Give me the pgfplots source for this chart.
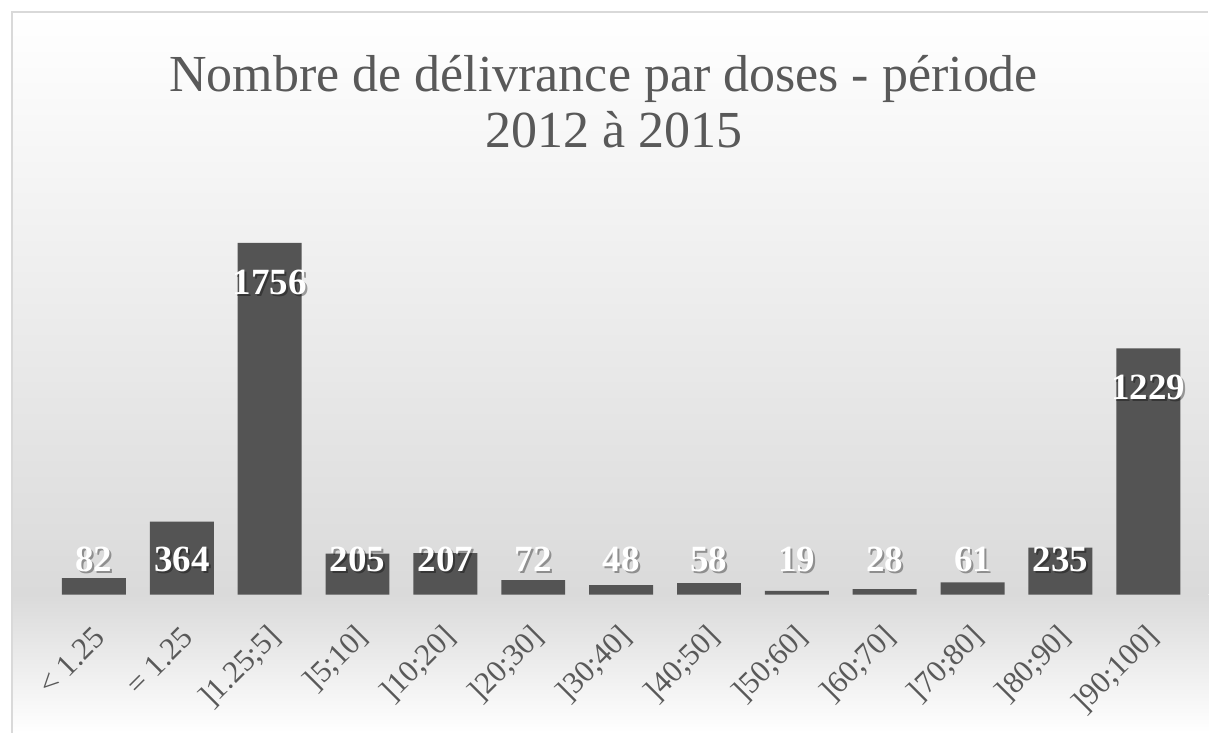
\documentclass[border=0pt]{standalone}
\usepackage{pgfplots}
\pgfplotsset{compat=1.18}
\usepackage{fontspec}
\setmainfont{Liberation Serif}
\definecolor{barcol}{HTML}{545454}
\definecolor{txtcol}{HTML}{595959}
\definecolor{bgmid}{HTML}{DADADA}
\definecolor{framecol}{HTML}{D9D9D9}

\pgfplotstableread{
x y
0 82
1 364
2 1756
3 205
4 207
5 72
6 48
7 58
8 19
9 28
10 61
11 235
12 1229
}\bardata

\pgfplotstableread{
x ly label
0 115 82
1 115 364
2 1496 1756
3 115 205
4 115 207
5 115 72
6 115 48
7 115 58
8 115 19
9 115 28
10 115 61
11 115 235
12 973 1229
}\labeldata

\begin{document}
\begin{tikzpicture}[x=1pt,y=1pt]
\fill[white] (0,0) rectangle (1209,733);
\shade[top color=white, bottom color=bgmid] (12,138) rectangle (1209,721);
\shade[top color=bgmid, bottom color=white] (12,0) rectangle (1209,138);
\draw[framecol, line width=1.5pt] (12,0) -- (12,721) -- (1209,721);
\node[anchor=base, text=txtcol, font=\fontsize{52}{58}\selectfont, inner sep=0pt] at (604,641) {Nombre de délivrance par doses - période};
\node[anchor=base, text=txtcol, font=\fontsize{52}{58}\selectfont, inner sep=0pt] at (614,585) {2012 à 2015};
\begin{axis}[
  at={(50pt,138pt)}, anchor=south west,
  scale only axis, width=1143pt, height=360.9pt,
  xmin=-0.5, xmax=12.5, ymin=0, ymax=1800,
  axis line style={draw=none},
  major tick length=0pt,
  ytick=\empty,
  xtick={0,...,12},
  xticklabels={{< 1.25},{= 1.25},{]1.25;5]},{]5;10]},{]10;20]},{]20;30]},{]30;40]},{]40;50]},{]50;60]},{]60;70]},{]70;80]},{]80;90]},{]90;100]}},
  xticklabel style={xshift=6pt, yshift=-38pt, rotate=45, anchor=east, text=txtcol, font=\fontsize{31}{34}\selectfont, inner sep=0pt},
  clip=false,
]
\addplot[ybar, bar width=64pt, fill=barcol, draw=none] table[x=x,y=y] {\bardata};
\addplot[draw=none, mark=none, nodes near coords, point meta=explicit symbolic,
  every node near coord/.style={anchor=base, xshift=2pt, yshift=-2pt, text=black, opacity=0.35, font=\fontsize{37}{40}\selectfont\bfseries, inner sep=0pt}]
  table[x=x,y=ly,meta=label] {\labeldata};
\addplot[draw=none, mark=none, nodes near coords, point meta=explicit symbolic,
  every node near coord/.style={anchor=base, text=white, font=\fontsize{37}{40}\selectfont\bfseries, inner sep=0pt}]
  table[x=x,y=ly,meta=label] {\labeldata};
\end{axis}
\end{tikzpicture}
\end{document}
